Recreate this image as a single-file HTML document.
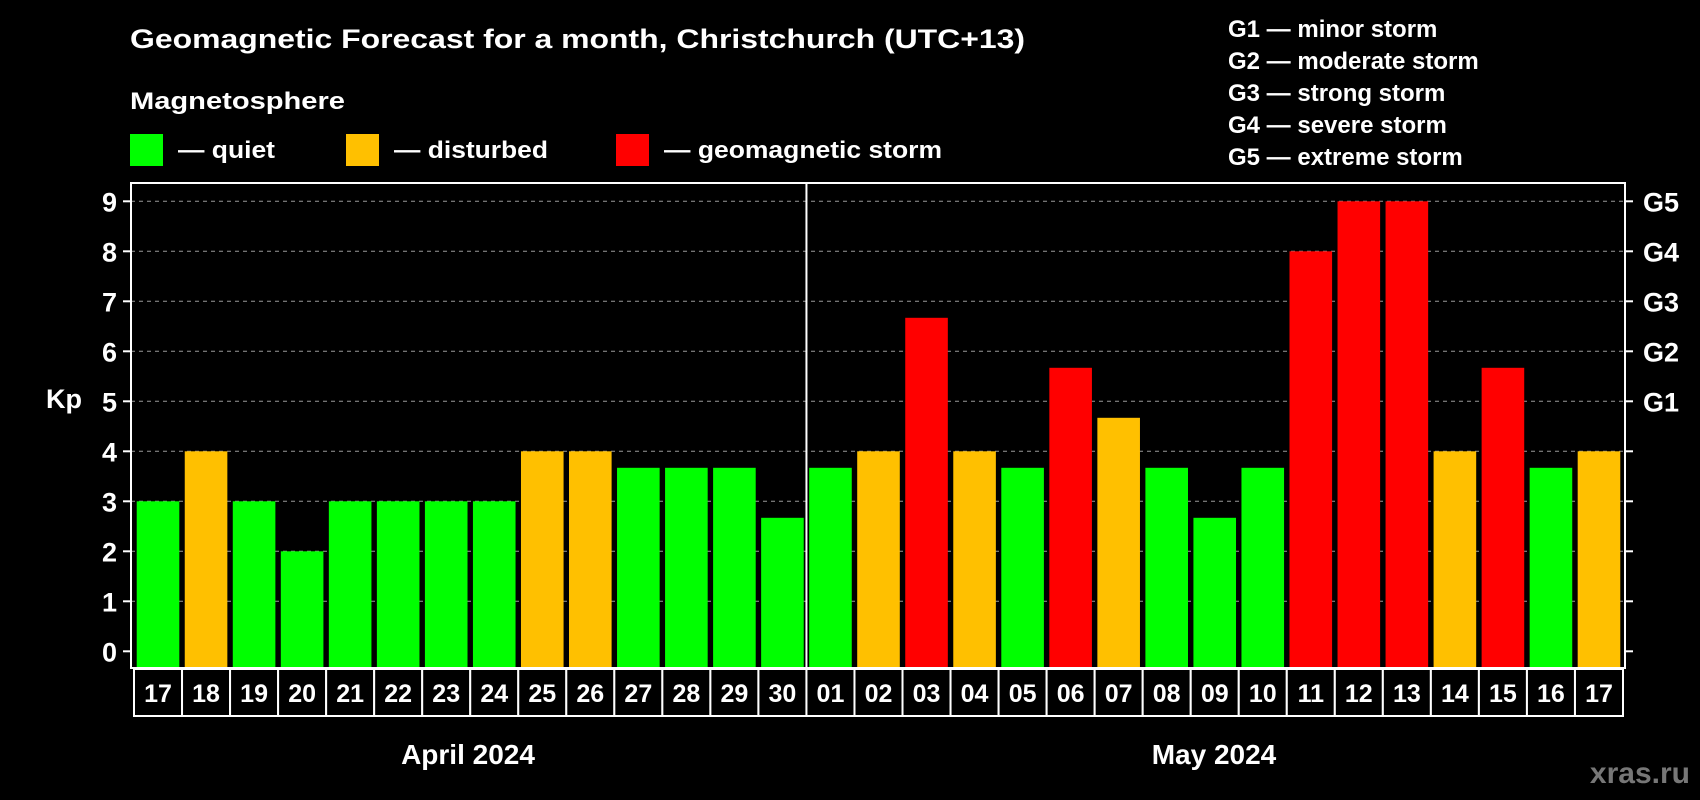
<!DOCTYPE html>
<html><head><meta charset="utf-8"><style>
html,body{margin:0;padding:0;background:#000;}
svg{display:block;font-family:"Liberation Sans",Arial,sans-serif;font-weight:bold;}
</style></head><body>
<svg id="chart" width="1700" height="800" viewBox="0 0 1700 800" xmlns="http://www.w3.org/2000/svg">
<rect x="0" y="0" width="1700" height="800" fill="#000"/>
<text x="130" y="48" fill="#fff" font-size="27" textLength="895" lengthAdjust="spacingAndGlyphs">Geomagnetic Forecast for a month, Christchurch (UTC+13)</text>
<text x="130" y="109" fill="#fff" font-size="24" textLength="215" lengthAdjust="spacingAndGlyphs">Magnetosphere</text>
<g>
<rect x="130" y="134" width="33" height="32" fill="#00ff00"/>
<text x="178" y="158" fill="#fff" font-size="24" textLength="97" lengthAdjust="spacingAndGlyphs">— quiet</text></g>
<g>
<rect x="346" y="134" width="33" height="32" fill="#ffc000"/>
<text x="394" y="158" fill="#fff" font-size="24" textLength="154" lengthAdjust="spacingAndGlyphs">— disturbed</text></g>
<g>
<rect x="616" y="134" width="33" height="32" fill="#ff0000"/>
<text x="664" y="158" fill="#fff" font-size="24" textLength="278" lengthAdjust="spacingAndGlyphs">— geomagnetic storm</text></g>
<g fill="#fff" font-size="24">
<text x="1228" y="37">G1 — minor storm</text>
<text x="1228" y="69">G2 — moderate storm</text>
<text x="1228" y="101">G3 — strong storm</text>
<text x="1228" y="133">G4 — severe storm</text>
<text x="1228" y="165">G5 — extreme storm</text>
</g>
<text x="64" y="408" fill="#fff" font-size="27" text-anchor="middle">Kp</text>
<g id="grid"></g><g id="bars"></g><g id="axes"></g><g id="labels"></g>
<text x="468" y="764" fill="#fff" font-size="28" text-anchor="middle">April 2024</text>
<text x="1214" y="764" fill="#fff" font-size="28" text-anchor="middle">May 2024</text>
<text x="1690" y="783" fill="#777" font-size="30" text-anchor="end">xras.ru</text>
</svg>
<script>
const days = ["17","18","19","20","21","22","23","24","25","26","27","28","29","30","01","02","03","04","05","06","07","08","09","10","11","12","13","14","15","16","17"];
const kpValues = [3,4,3,2,3,3,3,3,4,4,3.67,3.67,3.67,2.67,3.67,4,6.67,4,3.67,5.67,4.67,3.67,2.67,3.67,8,9,9,4,5.67,3.67,4];
const yTicks = [0,1,2,3,4,5,6,7,8,9];
const gLabels = ["","","","","","G1","G2","G3","G4","G5"];
const NS="http://www.w3.org/2000/svg";
const L=131,R=1625,T=183,B=668;
const cellL=134,cellW=(1623-134)/days.length;
function y(v){return 651.3-50*v;}
function xc(i){return cellL+cellW*(i+0.5);}
function color(v){return v<4?"#00ff00":(v<5?"#ffc000":"#ff0000");}
function mk(tag,attrs,parent){const e=document.createElementNS(NS,tag);for(const k in attrs)e.setAttribute(k,attrs[k]);parent.appendChild(e);return e;}
const grid=document.getElementById('grid'),bars=document.getElementById('bars'),axes=document.getElementById('axes'),labels=document.getElementById('labels');
yTicks.forEach((t,i)=>{
  if(t>0){const g=mk('line',{x1:L,x2:R,y1:y(t),y2:y(t),stroke:'#999','stroke-width':1,'stroke-dasharray':'4,4'},grid);
  
  }
  const tl=mk('line',{x1:L-8,x2:L,y1:y(t),y2:y(t),stroke:'#fff','stroke-width':2},axes);
  
  
  const tr=mk('line',{x1:R,x2:R+8,y1:y(t),y2:y(t),stroke:'#fff','stroke-width':2},axes);
  
  
  const lt=mk('text',{x:L-14,y:y(t)+10,fill:'#fff','font-size':27,'text-anchor':'end'},axes);
  lt.textContent=t;
  
  
  if(gLabels[i]){const gt=mk('text',{x:R+18,y:y(t)+10,fill:'#fff','font-size':27},axes);
  gt.textContent=gLabels[i];
  
  }
});
kpValues.forEach((v,i)=>{
  const b=mk('rect',{x:xc(i)-21.3,y:y(v),width:42.6,height:B-y(v),fill:color(v)},bars);
  
  
  const c=mk('rect',{x:cellL+cellW*i,y:669,width:cellW,height:47,fill:'#000',stroke:'#fff','stroke-width':2},labels);
  
  
  const t=mk('text',{x:xc(i),y:702,fill:'#fff','font-size':25,'text-anchor':'middle'},labels);
  t.textContent=days[i];
  
  
});
const fr=mk('rect',{x:L,y:T,width:R-L,height:B-T,fill:'none',stroke:'#fff','stroke-width':2},axes);


const dv=mk('line',{x1:cellL+cellW*14,x2:cellL+cellW*14,y1:T,y2:B,stroke:'#fff','stroke-width':2},axes);


</script>
</body></html>
